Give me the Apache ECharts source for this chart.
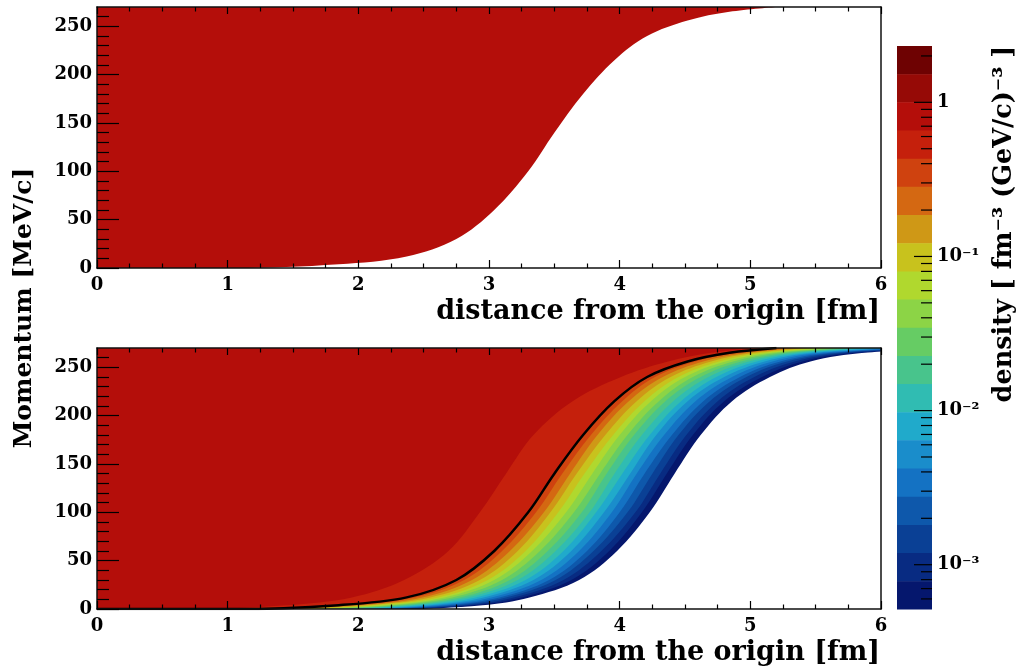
<!DOCTYPE html>
<html><head><meta charset="utf-8">
<script src="https://cdn.jsdelivr.net/npm/echarts@6/dist/echarts.min.js"></script>
<style>html,body{margin:0;padding:0;background:#fff}#c{width:1026px;height:670px}</style>
</head><body><div id="c"></div>
<script>
// momentum rows (MeV/c) at which contour positions (fm) were read
const pRows = [0, 4, 12, 30, 60, 100, 140, 180, 215, 240, 256, 265, 270];
// Fermi boundary (top panel edge, black line in bottom panel)
const fermiR = [1.05, 1.85, 2.37, 2.75, 3.04, 3.30, 3.50, 3.72, 3.96, 4.21, 4.52, 4.84, 5.20];
// outer edges of density bands in the bottom panel (band 3 ... band 20)
const edge03 = [0.70, 1.45, 1.95, 2.35, 2.69, 2.93, 3.13, 3.34, 3.64, 4.01, 4.37, 4.70, 5.05];
const edge05 = [1.13, 1.92, 2.43, 2.81, 3.10, 3.36, 3.56, 3.78, 4.02, 4.27, 4.58, 4.90, 5.29];
const edge06 = [1.21, 1.99, 2.49, 2.87, 3.16, 3.42, 3.62, 3.83, 4.07, 4.33, 4.64, 4.97, 5.38];
const edge07 = [1.28, 2.06, 2.55, 2.93, 3.22, 3.47, 3.67, 3.89, 4.13, 4.39, 4.70, 5.03, 5.46];
const edge08 = [1.36, 2.13, 2.61, 2.99, 3.28, 3.53, 3.73, 3.95, 4.19, 4.45, 4.76, 5.10, 5.55];
const edge09 = [1.44, 2.20, 2.66, 3.04, 3.33, 3.59, 3.79, 4.00, 4.24, 4.50, 4.81, 5.16, 5.64];
const edge10 = [1.52, 2.26, 2.72, 3.10, 3.39, 3.65, 3.85, 4.06, 4.30, 4.56, 4.87, 5.22, 5.73];
const edge11 = [1.60, 2.33, 2.78, 3.16, 3.45, 3.71, 3.90, 4.11, 4.35, 4.62, 4.93, 5.29, 5.81];
const edge12 = [1.67, 2.40, 2.84, 3.22, 3.51, 3.77, 3.96, 4.17, 4.41, 4.68, 4.99, 5.35, 5.90];
const edge13 = [1.75, 2.47, 2.90, 3.28, 3.57, 3.82, 4.02, 4.23, 4.47, 4.74, 5.05, 5.42, 5.99];
const edge14 = [1.83, 2.54, 2.96, 3.34, 3.63, 3.88, 4.08, 4.28, 4.52, 4.80, 5.11, 5.48, 6.08];
const edge15 = [1.91, 2.61, 3.02, 3.40, 3.69, 3.94, 4.13, 4.34, 4.58, 4.86, 5.17, 5.54, 6.16];
const edge16 = [1.99, 2.68, 3.08, 3.46, 3.75, 4.00, 4.19, 4.40, 4.64, 4.92, 5.23, 5.61, 6.25];
const edge17 = [2.06, 2.75, 3.13, 3.51, 3.80, 4.06, 4.25, 4.45, 4.69, 4.97, 5.28, 5.67, 6.34];
const edge18 = [2.14, 2.82, 3.19, 3.57, 3.86, 4.12, 4.31, 4.51, 4.75, 5.03, 5.34, 5.74, 6.43];
const edge19 = [2.22, 2.88, 3.25, 3.63, 3.92, 4.17, 4.36, 4.56, 4.80, 5.09, 5.40, 5.80, 6.51];
const edge20 = [2.30, 2.95, 3.31, 3.69, 3.98, 4.23, 4.42, 4.62, 4.86, 5.15, 5.46, 5.87, 6.60];

// colour palette: band 1 (highest density) ... band 20 (lowest)
const bandColors = ['#6e0202', '#960a06', '#b40e0a', '#c5200c', '#cf420f', '#d46812', '#cf9816',
  '#c8c21d', '#b0d82e', '#8cd446', '#66cc64', '#48c48c', '#30bcb2', '#20aacb', '#1a8dcb',
  '#1472c3', '#0e58ab', '#0a4095', '#082b82', '#05176d'];
// contour level edges of the colour bar (density)
const levelEdges = [2.32, 1.52, 1.0, 0.656, 0.431, 0.283, 0.186, 0.122, 0.0800, 0.0525, 0.0345,
  0.0226, 0.0149, 0.00976, 0.00641, 0.00421, 0.00276, 0.00181, 0.00119, 0.00078, 0.000516];

const yMajor = [0, 50, 100, 150, 200, 250];
const yMinor = [10, 20, 30, 40, 60, 70, 80, 90, 110, 120, 130, 140, 160, 170, 180, 190, 210, 220, 230, 240, 260];
const zMajor = [1, 0.1, 0.01, 0.001];
const zMinor = [2, 0.9, 0.8, 0.7, 0.6, 0.5, 0.4, 0.3, 0.2, 0.09, 0.08, 0.07, 0.06, 0.05, 0.04, 0.03, 0.02,
  0.009, 0.008, 0.007, 0.006, 0.005, 0.004, 0.003, 0.002, 0.0009, 0.0008, 0.0007, 0.0006];

const FONT = '"DejaVu Serif"';
const lab = { fontFamily: FONT, fontWeight: 'bold', fontSize: 18, color: '#000' };
const frame = { show: true, onZero: false, lineStyle: { color: '#111', width: 1.5 } };
const tickStyle = { color: '#000', width: 1.2 };

function xAxes(g) {
  return [
    { type: 'value', gridIndex: g, min: 0, max: 6, interval: 1, position: 'bottom', z: 10,
      axisLine: frame, axisTick: { show: true, inside: true, length: 8, lineStyle: tickStyle },
      minorTick: { show: true, splitNumber: 4, length: 4.5, lineStyle: tickStyle },
      axisLabel: Object.assign({ margin: 8 }, lab), splitLine: { show: false } },
    { type: 'value', gridIndex: g, min: 0, max: 6, interval: 1, position: 'top', z: 10,
      axisLine: frame, axisTick: { show: true, inside: true, length: 7, lineStyle: tickStyle },
      minorTick: { show: true, splitNumber: 4, length: 4.5, lineStyle: tickStyle },
      axisLabel: { show: false }, splitLine: { show: false } }
  ];
}
function yAxes(g) {
  return [
    { type: 'value', gridIndex: g, min: 0, max: 270, position: 'left', z: 10,
      axisLine: frame, axisTick: { show: true, inside: true, length: 22, customValues: yMajor, lineStyle: tickStyle },
      axisLabel: Object.assign({ margin: 5, customValues: yMajor }, lab), splitLine: { show: false } },
    { type: 'value', gridIndex: g, min: 0, max: 270, position: 'left', z: 10,
      axisLine: { show: false }, axisTick: { show: true, inside: true, length: 12, customValues: yMinor, lineStyle: tickStyle },
      axisLabel: { show: false }, splitLine: { show: false } },
    { type: 'value', gridIndex: g, min: 0, max: 270, position: 'right', z: 10,
      axisLine: frame, axisTick: { show: false }, axisLabel: { show: false }, splitLine: { show: false } }
  ];
}

function curve(rs) {
  return [[0, 0]].concat(pRows.map((p, i) => [rs[i], p]));
}
function filled(rs, color, xi, yi) {
  return { type: 'line', xAxisIndex: xi, yAxisIndex: yi, data: curve(rs), symbol: 'none',
    smooth: 0.35, silent: true, clip: true,
    lineStyle: { width: 0, opacity: 0 }, areaStyle: { color: color, opacity: 1, origin: 'end' } };
}

const bottomEdges = [edge20, edge19, edge18, edge17, edge16, edge15, edge14, edge13, edge12, edge11,
  edge10, edge09, edge08, edge07, edge06, edge05, fermiR, edge03];
const bottomBands = [20, 19, 18, 17, 16, 15, 14, 13, 12, 11, 10, 9, 8, 7, 6, 5, 4, 3];

const series = [];
series.push(filled(fermiR, bandColors[2], 0, 0));
bottomEdges.forEach((e, i) => series.push(filled(e, bandColors[bottomBands[i] - 1], 2, 3)));
series.push({ type: 'line', xAxisIndex: 2, yAxisIndex: 3, data: curve(fermiR), symbol: 'none',
  smooth: 0.35, silent: true, clip: true, z: 5,
  lineStyle: { color: '#000', width: 2.5 } });
// colour bar boxes
series.push({ type: 'custom', xAxisIndex: 4, yAxisIndex: 6, silent: true,
  encode: { x: 0, y: [1, 2] },
  data: bandColors.map((c, i) => ({ value: [0, levelEdges[i], levelEdges[i + 1]], itemStyle: { color: c } })),
  renderItem: function (params, api) {
    const a = api.coord([0, api.value(1)]);
    const b = api.coord([1, api.value(2)]);
    return { type: 'rect', shape: { x: a[0], y: a[1], width: b[0] - a[0], height: b[1] - a[1] + 0.5 },
      style: { fill: api.visual('color') } };
  } });
// colour bar ticks (major / minor), placed by the log scale
series.push({ type: 'custom', xAxisIndex: 4, yAxisIndex: 6, silent: true, z: 10,
  encode: { x: 0, y: 1 },
  data: zMajor.map(v => [1, v, 18]).concat(zMinor.map(v => [1, v, 11])),
  renderItem: function (params, api) {
    const p = api.coord([1, api.value(1)]);
    const len = api.value(2);
    return { type: 'line', shape: { x1: p[0], y1: p[1], x2: p[0] - len, y2: p[1] },
      style: { stroke: '#000', lineWidth: 1.2 } };
  } });

const supMap = { '-': '\u207B', '0': '\u2070', '1': '\u00B9', '2': '\u00B2', '3': '\u00B3' };
function zLabel(v) {
  const e = Math.round(Math.log10(v));
  if (e === 0) return '1';
  return '10' + String(e).split('').map(ch => supMap[ch]).join('');
}

const titleStyle = (text, size, extra) => Object.assign({ text: text, font: 'bold ' + size + 'px ' + FONT, fill: '#000' }, extra);
const centered = { textAlign: 'center', textVerticalAlign: 'middle', align: 'center', verticalAlign: 'middle' };
const rightAl = { textAlign: 'right', textVerticalAlign: 'middle', align: 'right', verticalAlign: 'middle' };

const option = {
  animation: false,
  backgroundColor: '#fff',
  grid: [
    { left: 97, top: 7, width: 784, height: 261 },
    { left: 97, top: 348, width: 784, height: 261 },
    { left: 897, top: 46, width: 35, height: 563 }
  ],
  xAxis: xAxes(0).concat(xAxes(1)).concat([{ type: 'value', gridIndex: 2, min: 0, max: 1, show: false }]),
  yAxis: yAxes(0).concat(yAxes(1)).concat([
    { type: 'log', gridIndex: 2, min: levelEdges[20], max: levelEdges[0], position: 'right', z: 10,
      axisLine: { show: false }, axisTick: { show: false },
      axisLabel: Object.assign({ margin: 5, customValues: zMajor, formatter: zLabel }, lab),
      splitLine: { show: false } }
  ]),
  graphic: [
    { type: 'text', x: 24, y: 308, rotation: Math.PI / 2, z: 100,
      style: titleStyle('Momentum [MeV/c]', 25, centered) },
    { type: 'text', x: 880, y: 312, z: 100,
      style: titleStyle('distance from the origin [fm]', 27, rightAl) },
    { type: 'text', x: 880, y: 653, z: 100,
      style: titleStyle('distance from the origin [fm]', 27, rightAl) },
    { type: 'text', x: 1004, y: 224, rotation: Math.PI / 2, z: 100,
      style: titleStyle('density [ fm\u207B\u00B3 (GeV/c)\u207B\u00B3 ]', 25.5, centered) }
  ],
  series: series
};

const chart = echarts.init(document.getElementById('c'), null, { renderer: 'canvas' });
chart.setOption(option);
</script>
</body></html>
